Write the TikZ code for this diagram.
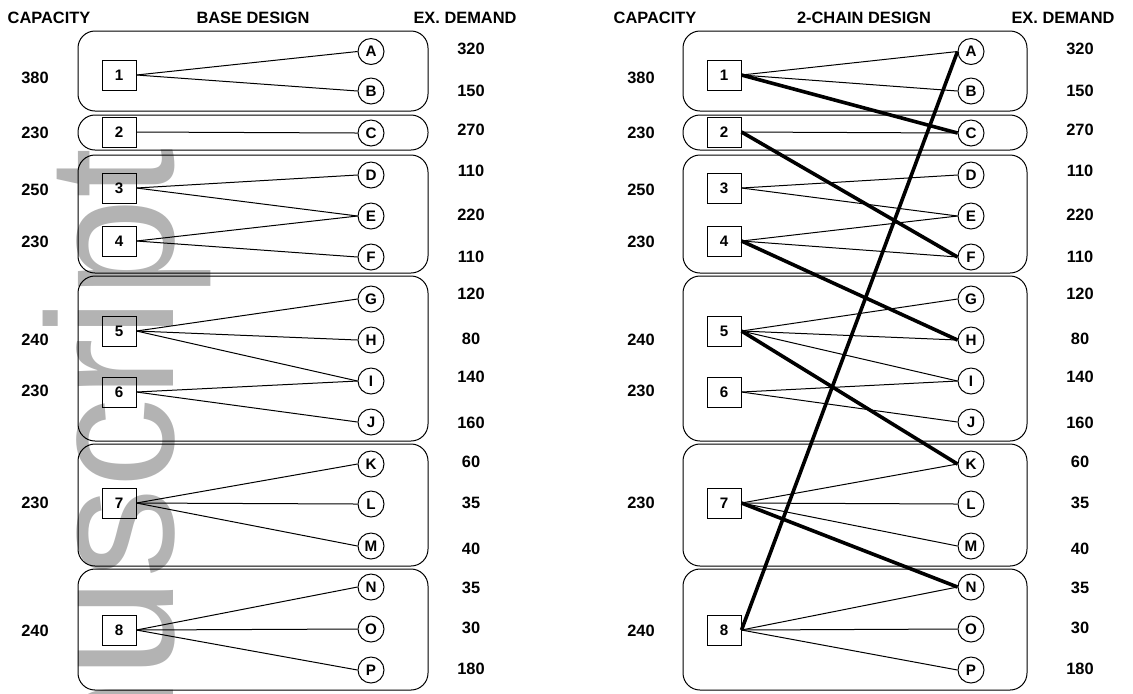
\documentclass[tikz,border=0pt]{standalone}
\usepackage{fontspec}
\setmainfont{Liberation Sans}
\usetikzlibrary{calc}
\definecolor{MarkGray}{HTML}{B3B3B3}

\begin{document}
\begin{tikzpicture}[x=0.5pt, y=-0.5pt, font=\bfseries\fontsize{8.2}{9}\selectfont,
  plant/.style={draw, line width=0.5pt, minimum width=17pt, minimum height=15pt, inner sep=0pt,
    font=\bfseries\fontsize{7.6}{8}\selectfont},
  product/.style={draw, circle, line width=0.5pt, minimum size=13pt, inner sep=0pt,
    font=\bfseries\fontsize{7.6}{8}\selectfont},
  pool/.style={draw, line width=0.5pt, rounded corners=8.5pt},
  num/.style={inner sep=0pt},
  link/.style={line width=0.5pt},
  chainlink/.style={line width=1.8pt}]
  \useasboundingbox (0,0) rectangle (1133,693);

  % watermark behind everything
  \begin{scope}
    \clip (0,0) rectangle (1133,693);
    \node[rotate=90, anchor=base east, inner sep=0pt, text=MarkGray,
      font=\mdseries\fontsize{90}{90}\selectfont] (mark) at (173,148) {Author Manuscript};
  \end{scope}

  % headers
  \node (capL) at (49,18) {CAPACITY};
  \node (titleL) at (253,18) {BASE DESIGN};
  \node (demL) at (465,18) {EX. DEMAND};
  \node (capR) at (655,18) {CAPACITY};
  \node (titleR) at (864,18) {2-CHAIN DESIGN};
  \node (demR) at (1063,18) {EX. DEMAND};

  % pools
  \foreach \top/\bot in {31/111, 115/150, 155/273, 276/441, 444/566, 569/690} {
    \draw[pool] (78,\top) rectangle (428,\bot);
    \draw[pool] (683,\top) rectangle (1027,\bot);
  }

  % plants with capacities
  \foreach \n/\y/\cp/\cy in {1/75/380/78, 2/132/230/133, 3/188/250/190, 4/241/230/242,
                             5/331/240/340, 6/392/230/391, 7/503/230/503, 8/630/240/631} {
    \node[plant] (L\n) at (119,\y) {\n};
    \node[plant] (R\n) at (724,\y) {\n};
    \node[num] (Lc\n) at (35,\cy) {\cp};
    \node[num] (Rc\n) at (641,\cy) {\cp};
  }

  % products with expected demands
  \foreach \p/\y/\dem/\dy in {A/51.5/320/49, B/91/150/91, C/133/270/130, D/175/110/171,
                              E/216/220/215, F/257/110/257, G/299/120/294, H/340/80/339,
                              I/381/140/377, J/422/160/423, K/464/60/462, L/504/35/503,
                              M/546/40/549, N/587/35/588, O/629/30/628, P/670/180/669} {
    \node[product] (L\p) at (371,\y) {\p};
    \node[product] (R\p) at (971,\y) {\p};
    \node[num] (Ld\p) at (471,\dy) {\dem};
    \node[num] (Rd\p) at (1080,\dy) {\dem};
  }

  % base links, both designs
  \foreach \s/\t in {1/A,1/B,2/C,3/D,3/E,4/E,4/F,5/G,5/H,5/I,6/I,6/J,7/K,7/L,7/M,8/N,8/O,8/P} {
    \draw[link] (L\s.east) -- (L\t.west);
    \draw[link] (R\s.east) -- (R\t.west);
  }

  % extra links closing the chain
  \foreach \s/\t in {1/C,2/F,4/H,5/K,7/N,8/A}
    \draw[chainlink] (R\s.east) -- (R\t.west);
\end{tikzpicture}
\end{document}
